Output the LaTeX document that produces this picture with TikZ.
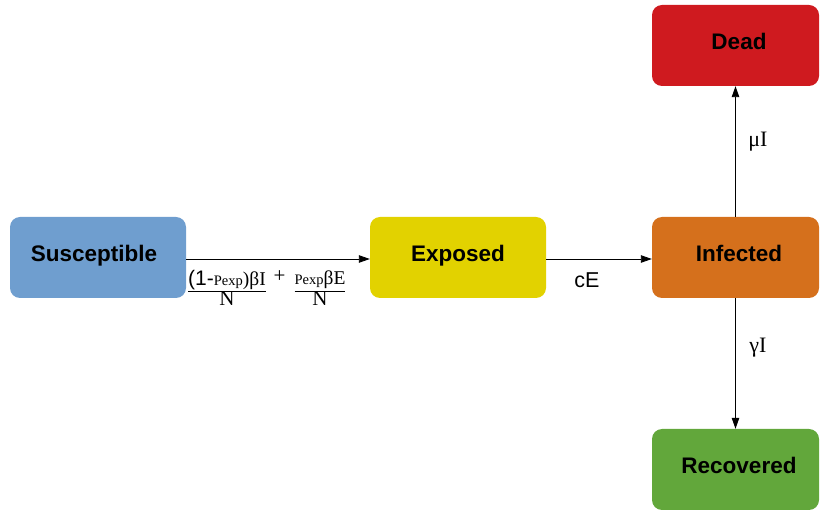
\documentclass[tikz,border=0pt]{standalone}
\usepackage{fontspec}
\setmainfont{Liberation Serif}
\setsansfont{Liberation Sans}
\usetikzlibrary{arrows.meta}
\definecolor{cS}{HTML}{6F9ECF}
\definecolor{cE}{HTML}{E2D200}
\definecolor{cI}{HTML}{D5701C}
\definecolor{cD}{HTML}{CF1A1F}
\definecolor{cR}{HTML}{62A73B}
\tikzset{
  statebox/.style={rounded corners=10pt, inner sep=0pt, minimum height=81pt,
    text height=9pt, text depth=0pt,
    font=\sffamily\bfseries\fontsize{22.5}{26}\selectfont, text=black},
  flow/.style={draw=black, line width=0.9pt, -{Triangle[length=11pt,width=7.5pt]}},
  ratelabel/.style={font=\fontsize{22}{26}\selectfont, inner sep=0pt},
  fraclabel/.style={font=\fontsize{19.5}{21}\selectfont, inner sep=0pt}
}
\begin{document}
\begin{tikzpicture}[x=1pt,y=-1pt]
\useasboundingbox (0,0) rectangle (820,510);
\node[statebox, fill=cS, minimum width=176pt] (S) at (98,257.5) {\hspace*{-8pt}Susceptible};
\node[statebox, fill=cE, minimum width=176pt] (E) at (458,257.5) {Exposed};
\node[statebox, fill=cI, minimum width=167pt] (I) at (735.5,257.5) {\hspace*{7pt}Infected};
\node[statebox, fill=cD, minimum width=167pt] (D) at (735.5,45.5) {\hspace*{7pt}Dead};
\node[statebox, fill=cR, minimum width=167pt] (R) at (735.5,469.5) {\hspace*{7pt}Recovered};

\draw[flow] ([yshift=-1.5pt]S.east) -- ([yshift=-1.5pt]E.west);
\draw[flow] ([yshift=-1.5pt]E.east) -- ([yshift=-1.5pt]I.west);
\draw[flow] (I.north) -- (D.south);
\draw[flow] (I.south) -- (R.north);

\node[ratelabel, font=\sffamily\fontsize{21.5}{24}\selectfont] (lcE) at (587,280) {cE};
\node[ratelabel] (lmu) at (758,142) {μI};
\node[ratelabel] (lga) at (758,348) {γI};

\node[fraclabel] (f1) at (227,291) {\renewcommand{\arraystretch}{0.95}\begin{tabular}{@{}c@{}}{\sffamily\fontsize{21}{22}\selectfont(1-}{\fontsize{14.5}{15}\selectfont Pexp})βI\\\hline \fontsize{21}{22}\selectfont N\end{tabular}};
\node[fraclabel, font=\fontsize{21}{22}\selectfont] (plus) at (279.5,277) {+};
\node[fraclabel] (f2) at (320,291) {\renewcommand{\arraystretch}{0.95}\begin{tabular}{@{}c@{}}{\fontsize{14.5}{15}\selectfont Pexp}βE\\\hline \fontsize{21}{22}\selectfont N\end{tabular}};
\end{tikzpicture}
\end{document}
